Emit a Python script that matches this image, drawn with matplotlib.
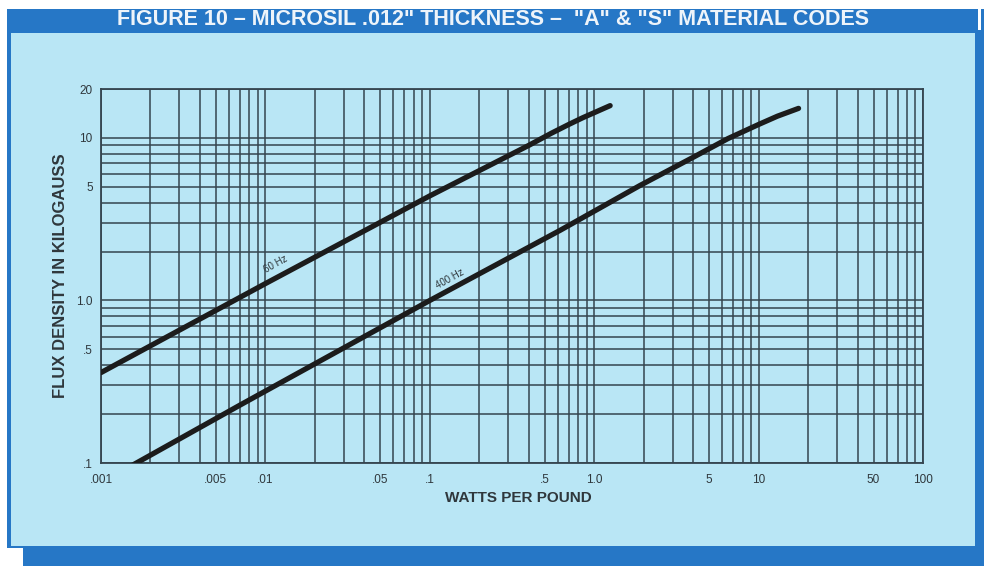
import matplotlib.pyplot as plt
import matplotlib.patches as mpatches
from matplotlib.ticker import FixedLocator, NullFormatter

# values
watts_60 = [0.001, 0.01, 0.1, 0.4, 0.55, 0.7, 0.85, 1.0, 1.25]
flux_60 = [0.36, 1.27, 4.4, 9.0, 10.7, 12.1, 13.3, 14.3, 15.8]

watts_400 = [0.0015, 0.007, 0.1, 0.62, 1.9, 4.0, 6.5, 10.0, 13.0, 17.5]
flux_400 = [0.095, 0.227, 1.0, 2.7, 5.1, 7.6, 9.9, 12.1, 13.6, 15.2]

x_ticks = [0.001, 0.005, 0.01, 0.05, 0.1, 0.5, 1.0, 5, 10, 50, 100]
x_labels = ['.001', '.005', '.01', '.05', '.1', '.5', '1.0', '5', '10', '50', '100']
y_ticks = [0.1, 0.5, 1.0, 5, 10, 20]
y_labels = ['.1', '.5', '1.0', '5', '10', '20']

title = 'FIGURE 10 \u2013 MICROSIL .012" THICKNESS \u2013  "A" & "S" MATERIAL CODES'

W, H = 984, 566
BLUE = '#2677c6'
PANEL = '#b9e6f5'
GRID = '#35454f'
TXT = '#2f373c'
FONT = ['Liberation Sans', 'DejaVu Sans']


def px_rect(fig, x0, y0, x1, y1, color):
    # rectangle given in pixel coords measured from the top-left corner
    fig.patches.append(mpatches.Rectangle((x0 / W, 1 - y1 / H), (x1 - x0) / W, (y1 - y0) / H,
                                          transform=fig.transFigure, facecolor=color,
                                          edgecolor='none', zorder=-10))


def main():
    plt.rcParams['font.family'] = FONT
    fig = plt.figure(figsize=(W / 100, H / 100), dpi=100, facecolor='white')

    # frame / panel
    px_rect(fig, 7, 9, 984, 566, BLUE)
    px_rect(fig, 0, 548, 23, 566, 'white')
    px_rect(fig, 978, 0, 981, 30, 'white')
    px_rect(fig, 11, 33, 975, 546, PANEL)

    fig.text(493 / W, 1 - 19.5 / H, title, ha='center', va='center', color='#eef4fa',
             fontsize=15.5, fontweight='bold')

    ax = fig.add_axes([101 / W, 1 - 463 / H, (923 - 101) / W, (463 - 89) / H])
    ax.set_facecolor('none')
    ax.set_xscale('log')
    ax.set_yscale('log')
    ax.set_xlim(0.001, 100)
    ax.set_ylim(0.1, 20)

    ax.xaxis.set_major_locator(FixedLocator(x_ticks))
    ax.xaxis.set_minor_locator(FixedLocator(
        [m * 10.0 ** e for e in range(-3, 2) for m in range(2, 10) if m != 5]))
    ax.yaxis.set_major_locator(FixedLocator(y_ticks))
    ax.yaxis.set_minor_locator(FixedLocator(
        [m * 10.0 ** e for e in range(-1, 1) for m in range(2, 10) if m != 5]))
    ax.xaxis.set_minor_formatter(NullFormatter())
    ax.yaxis.set_minor_formatter(NullFormatter())
    ax.set_xticklabels(x_labels)
    ax.set_yticklabels(y_labels)

    ax.grid(True, which='both', color=GRID, linewidth=1.1)
    ax.tick_params(which='both', length=0, labelsize=8.5, colors=TXT)
    ax.tick_params(axis='x', pad=8)
    ax.tick_params(axis='y', pad=6)
    for s in ax.spines.values():
        s.set_color(GRID)
        s.set_linewidth(1.3)

    ax.plot(watts_60, flux_60, color='#1c1c1c', linewidth=3.8, solid_capstyle='round', zorder=5)
    ax.plot(watts_400, flux_400, color='#1c1c1c', linewidth=3.8, solid_capstyle='round', zorder=5)

    ax.text(0.0116, 1.68, '60 Hz', rotation=29, ha='center', va='center',
            fontsize=7, color=TXT, zorder=6)
    ax.text(0.133, 1.36, '400 Hz', rotation=29, ha='center', va='center',
            fontsize=7, color=TXT, zorder=6)

    ax.set_xlabel('WATTS PER POUND', fontsize=11, fontweight='bold', color=TXT)
    ax.set_ylabel('FLUX DENSITY IN KILOGAUSS', fontsize=12, fontweight='bold', color=TXT)
    ax.xaxis.set_label_coords((518 - 101) / 822, -(491 - 463) / 374)
    ax.yaxis.set_label_coords((68 - 101) / 822, 0.5)

    fig.savefig('out.png', dpi=100, facecolor='white')


if __name__ == '__main__':
    main()
